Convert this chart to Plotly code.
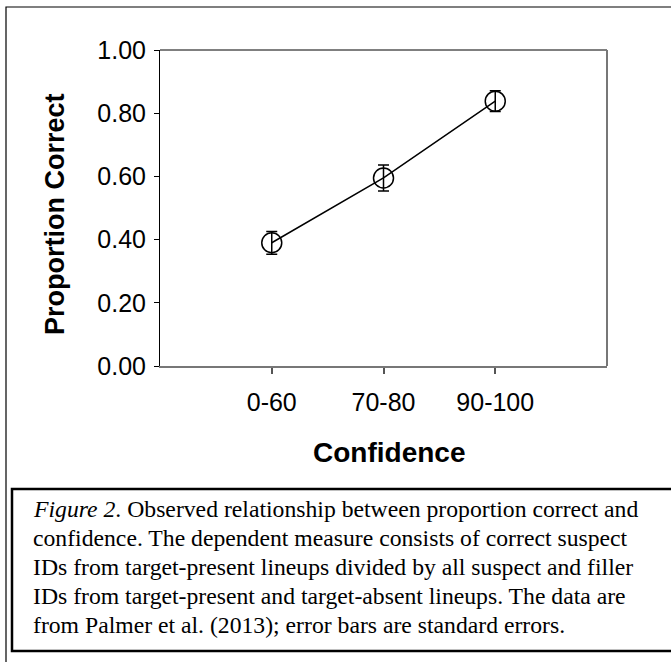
import plotly.graph_objects as go

# ---- data ----
categories = ["0-60", "70-80", "90-100"]
cat_pos = [1, 2, 3]
proportion_correct = [0.39, 0.595, 0.838]
std_errors = [0.036, 0.041, 0.033]
y_ticks = [0.0, 0.2, 0.4, 0.6, 0.8, 1.0]
caption_lines = [
    "<i>Figure 2</i>. Observed relationship between proportion correct and",
    "confidence. The dependent measure consists of correct suspect",
    "IDs from target-present lineups divided by all suspect and filler",
    "IDs from target-present and target-absent lineups. The data are",
    "from Palmer et al. (2013); error bars are standard errors.",
]

W, H = 671, 662
L, R, T, B = 160, 607, 50, 366  # plot area in pixels

def px_x(px):
    return (px - L) / (R - L)

def px_y(py):
    return (B - py) / (B - T)

fig = go.Figure()
fig.add_trace(go.Scatter(
    x=cat_pos, y=proportion_correct,
    mode="lines+markers",
    line=dict(color="black", width=1.5),
    marker=dict(symbol="circle-open", size=20, color="black", line=dict(width=1.5)),
    error_y=dict(type="data", array=std_errors, visible=True,
                 color="black", thickness=1.5, width=5.5),
    showlegend=False,
))

shapes = [
    # outer frame
    dict(type="rect", xref="paper", yref="paper",
         x0=px_x(6), x1=px_x(700), y0=px_y(700), y1=px_y(7),
         line=dict(color="black", width=1.2)),
    # caption box
    dict(type="rect", xref="paper", yref="paper",
         x0=px_x(12), x1=px_x(700), y0=px_y(651), y1=px_y(489),
         line=dict(color="black", width=2.5)),
    # plot top border
    dict(type="line", xref="paper", yref="paper", x0=0, x1=1, y0=1, y1=1,
         line=dict(color="black", width=1)),
    # plot right border
    dict(type="line", xref="paper", yref="paper", x0=1, x1=1, y0=0, y1=1,
         line=dict(color="#777777", width=2)),
]

cap_y = [509, 538, 567, 596, 625]
annotations = []
for txt, yy in zip(caption_lines, cap_y):
    annotations.append(dict(
        text=txt, xref="paper", yref="paper", x=px_x(31), y=px_y(yy),
        xanchor="left", yanchor="middle", showarrow=False, align="left",
        font=dict(family="Liberation Serif", size=23.7, color="black"),
    ))
# x-axis title
annotations.append(dict(
    text="<b>Confidence</b>", xref="paper", yref="paper",
    x=px_x(389), y=px_y(452), xanchor="center", yanchor="middle",
    showarrow=False,
    font=dict(family="Liberation Sans", size=28, color="black"),
))
# y-axis title
annotations.append(dict(
    text="<b>Proportion Correct</b>", xref="paper", yref="paper",
    x=px_x(55), y=px_y(214), xanchor="center", yanchor="middle",
    textangle=-90, showarrow=False,
    font=dict(family="Liberation Sans", size=27, color="black"),
))

fig.update_layout(
    width=W, height=H,
    margin=dict(l=L, r=W - R, t=T, b=H - B, pad=0),
    paper_bgcolor="white", plot_bgcolor="white",
    shapes=shapes, annotations=annotations,
    xaxis=dict(
        range=[0, 4], tickvals=cat_pos, ticktext=categories,
        showgrid=False, zeroline=False,
        showline=True, linecolor="#777777", linewidth=2,
        ticks="outside", ticklen=6, tickcolor="#555555", tickwidth=1.5,
        ticklabelstandoff=7,
        tickfont=dict(family="Liberation Sans", size=25, color="black"),
    ),
    yaxis=dict(
        range=[0, 1], tickvals=y_ticks, tickformat=".2f",
        showgrid=False, zeroline=False,
        showline=True, linecolor="black", linewidth=1,
        ticks="outside", ticklen=5, tickcolor="black", tickwidth=1,
        ticklabelstandoff=3,
        tickfont=dict(family="Liberation Sans", size=25, color="black"),
    ),
)

fig.write_html("out.html")
